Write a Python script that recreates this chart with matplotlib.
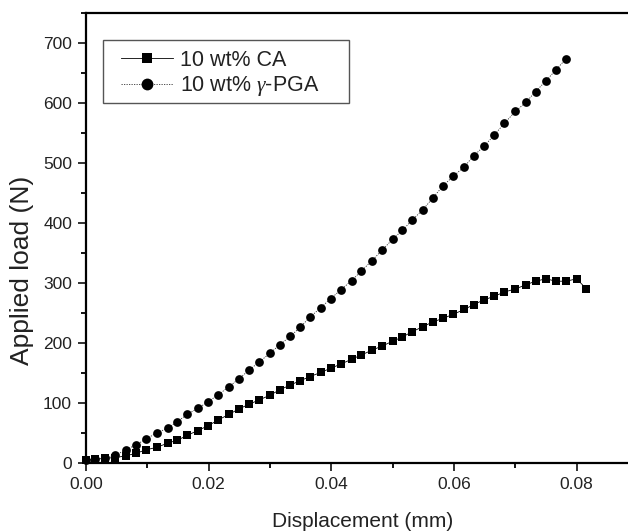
import matplotlib
matplotlib.use("Agg")
import matplotlib.pyplot as plt
from matplotlib.ticker import MultipleLocator
from matplotlib.patches import Rectangle

plt.rcParams['font.family'] = ['Liberation Sans', 'DejaVu Sans']
plt.rcParams['mathtext.fontset'] = 'custom'
plt.rcParams['mathtext.it'] = 'Liberation Serif:italic'

# Data
x_pga = [0, 0.0015, 0.0031, 0.0048, 0.0065, 0.0081, 0.0098, 0.0115, 0.0133, 0.0149,
         0.0165, 0.0182, 0.0199, 0.0216, 0.0233, 0.0249, 0.0266, 0.0282, 0.0300, 0.0316,
         0.0333, 0.0349, 0.0365, 0.0383, 0.0399, 0.0416, 0.0433, 0.0449, 0.0466, 0.0483,
         0.0500, 0.0516, 0.0532, 0.0549, 0.0565, 0.0582, 0.0599, 0.0617, 0.0632, 0.0649,
         0.0666, 0.0682, 0.0700, 0.0717, 0.0733, 0.0750, 0.0766, 0.0783]
y_pga = [5, 6, 9, 13, 22, 30, 40, 50, 58, 69,
         81, 91, 102, 114, 127, 140, 155, 168, 183, 197,
         211, 226, 243, 259, 274, 289, 304, 320, 337, 355,
         373, 388, 405, 422, 441, 462, 478, 494, 512, 528,
         547, 566, 586, 601, 619, 637, 655, 674]

x_ca = [0, 0.0015, 0.0031, 0.0048, 0.0065, 0.0081, 0.0098, 0.0115, 0.0133, 0.0149,
        0.0165, 0.0182, 0.0199, 0.0216, 0.0233, 0.0249, 0.0266, 0.0282, 0.0300, 0.0316,
        0.0333, 0.0349, 0.0365, 0.0383, 0.0399, 0.0416, 0.0433, 0.0449, 0.0466, 0.0483,
        0.0500, 0.0516, 0.0532, 0.0549, 0.0565, 0.0582, 0.0599, 0.0617, 0.0632, 0.0649,
        0.0666, 0.0682, 0.0700, 0.0717, 0.0733, 0.0750, 0.0766, 0.0783, 0.0800, 0.0816]
y_ca = [5, 6, 8, 9, 12, 16, 22, 26, 33, 38,
        46, 54, 62, 72, 81, 90, 98, 105, 113, 122,
        130, 137, 144, 151, 158, 165, 173, 180, 188, 195,
        203, 210, 219, 227, 235, 241, 248, 256, 264, 272,
        278, 285, 290, 297, 303, 307, 303, 303, 307, 290]

x_ticks = [0, 0.02, 0.04, 0.06, 0.08]
x_ticklabels = ["0.00", "0.02", "0.04", "0.06", "0.08"]
y_ticks = [0, 100, 200, 300, 400, 500, 600, 700]

label_ca = "10 wt% CA"
label_pga = "10 wt% $\\gamma$-PGA"
x_label = "Displacement (mm)"
y_label = "Applied load (N)"

W, H = 628, 532
fig = plt.figure(figsize=(W / 100, H / 100), dpi=100)
ax = fig.add_axes([86 / W, 1 - 463 / H, 552 / W, 450 / H])

ax.plot(x_ca, y_ca, color='black', lw=0.6, ls='-', marker='s', markersize=5.6,
        markeredgewidth=0, label=label_ca, clip_on=False, zorder=3)
ax.plot(x_pga, y_pga, color='#333333', lw=0.6, ls=(0, (1.5, 1.5)), marker='o', markersize=6.3,
        markerfacecolor='black', markeredgewidth=0, label=label_pga, clip_on=False, zorder=3)

ax.set_xlim(0, 0.09)
ax.set_ylim(0, 750)
ax.xaxis.set_minor_locator(MultipleLocator(0.01))
ax.yaxis.set_minor_locator(MultipleLocator(50))
ax.set_xticks(x_ticks)
ax.set_xticklabels(x_ticklabels)
ax.set_yticks(y_ticks)

ax.tick_params(which='major', direction='out', length=6, width=1.3, labelsize=12.5,
               colors='#222222', pad=4)
ax.tick_params(which='minor', direction='out', length=3.5, width=1.3)
ax.tick_params(top=False, right=False, which='both')
for s in ax.spines.values():
    s.set_linewidth(1.6)

ax.set_xlabel(x_label, fontsize=15, color='#222222', va='center')
ax.set_ylabel(y_label, fontsize=19, color='#222222', va='center')
ax.xaxis.set_label_coords(0.501, -0.129)
ax.yaxis.set_label_coords(-0.116, 0.429)

# Legend box (drawn as a frame) and legend entries
ax.add_patch(Rectangle((103 / W, 1 - 103 / H), 246 / W, 63 / H,
                       transform=fig.transFigure, fill=True, facecolor='white',
                       edgecolor='#555555', linewidth=1.0, zorder=4, clip_on=False))
leg = ax.legend(loc='upper left', bbox_to_anchor=(121 / W, 1 - 50 / H),
                bbox_transform=fig.transFigure, frameon=False, fontsize=15.5,
                handlelength=2.42, borderpad=0, labelspacing=0.16,
                handletextpad=0.33, borderaxespad=0, markerscale=1.35)
leg.set_zorder(5)
for t in leg.get_texts():
    t.set_color('#222222')

fig.savefig("out.png", dpi=100)
